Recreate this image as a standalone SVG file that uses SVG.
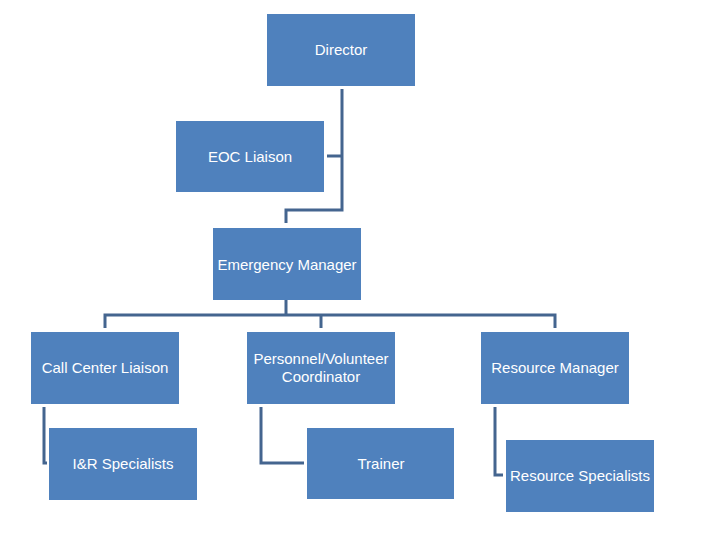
<svg xmlns="http://www.w3.org/2000/svg" width="720" height="540" viewBox="0 0 720 540">
<style>
.box{fill:#4F81BD}
.lbl{fill:#FFFFFF;font-family:"Liberation Sans","Open Sans",sans-serif;font-size:15px;text-anchor:middle;dominant-baseline:central}
.con{fill:none;stroke:#44658F;stroke-width:3}
</style>
<rect width="720" height="540" fill="#FFFFFF"/>
<g id="connectors">
<polyline class="con" points="342,89 342,210 286,210 286,223"/>
<polyline class="con" points="327,156 342,156"/>
<polyline class="con" points="286,300 286,315"/>
<polyline class="con" points="105,328 105,315 555,315 555,328"/>
<polyline class="con" points="321,315 321,328"/>
<polyline class="con" points="44,407 44,463 47,463"/>
<polyline class="con" points="261,407 261,463 304,463"/>
<polyline class="con" points="495,407 495,475 503,475"/>
</g>
<g id="director"><rect class="box" x="267" y="14" width="148" height="72"/><text class="lbl" x="341" y="49">Director</text></g>
<g id="eoc-liaison"><rect class="box" x="176" y="121" width="148" height="71"/><text class="lbl" x="250" y="156">EOC Liaison</text></g>
<g id="emergency-manager"><rect class="box" x="213" y="228" width="148" height="72"/><text class="lbl" x="287" y="264">Emergency Manager</text></g>
<g id="call-center-liaison"><rect class="box" x="31" y="332" width="148" height="72"/><text class="lbl" x="105" y="367">Call Center Liaison</text></g>
<g id="personnel-coordinator"><rect class="box" x="247" y="332" width="148" height="72"/><text class="lbl" x="321" y="358">Personnel/Volunteer</text><text class="lbl" x="321" y="376">Coordinator</text></g>
<g id="resource-manager"><rect class="box" x="481" y="332" width="148" height="72"/><text class="lbl" x="555" y="367">Resource Manager</text></g>
<g id="ir-specialists"><rect class="box" x="49" y="428" width="148" height="72"/><text class="lbl" x="123" y="463">I&amp;R Specialists</text></g>
<g id="trainer"><rect class="box" x="307" y="428" width="147" height="71"/><text class="lbl" x="381" y="463">Trainer</text></g>
<g id="resource-specialists"><rect class="box" x="506" y="440" width="148" height="72"/><text class="lbl" x="580" y="475">Resource Specialists</text></g>
</svg>
